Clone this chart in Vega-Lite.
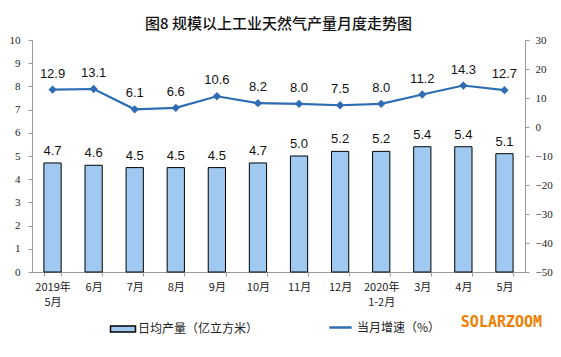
{
  "$schema": "https://vega.github.io/schema/vega-lite/v6.json",
  "width": 493,
  "height": 232,
  "autosize": {"type": "none"},
  "padding": {"left": 32, "top": 40, "right": 36, "bottom": 85},
  "background": "white",
  "title": {"text": "图8  规模以上工业天然气产量月度走势图", "font": "Noto Sans CJK SC", "fontSize": 15, "fontWeight": 500, "color": "#111", "anchor": "middle", "offset": 2},
  "config": {"view": {"stroke": null}},
  "datasets": {
    "main": [
      {"m": "2019年|5月", "v": 4.7, "g": 12.9},
      {"m": "6月", "v": 4.6, "g": 13.1},
      {"m": "7月", "v": 4.5, "g": 6.1},
      {"m": "8月", "v": 4.5, "g": 6.6},
      {"m": "9月", "v": 4.5, "g": 10.6},
      {"m": "10月", "v": 4.7, "g": 8.2},
      {"m": "11月", "v": 5.0, "g": 8.0},
      {"m": "12月", "v": 5.2, "g": 7.5},
      {"m": "2020年|1-2月", "v": 5.2, "g": 8.0},
      {"m": "3月", "v": 5.4, "g": 11.2},
      {"m": "4月", "v": 5.4, "g": 14.3},
      {"m": "5月", "v": 5.1, "g": 12.7}
    ],
    "mark": [{"m": "5月", "v": -2.15, "w": "SOLARZOOM"}]
  },
  "data": {"name": "main"},
  "encoding": {
    "x": {"field": "m", "type": "nominal", "sort": null,
      "scale": {"paddingInner": 0.58, "paddingOuter": 0.29},
      "axis": {"title": null, "labelAngle": 0, "labelExpr": "split(datum.label, '|')", "labelFont": "Noto Sans CJK SC", "labelFontSize": 11, "labelColor": "#222", "labelPadding": 5, "labelLineHeight": 15, "tickBand": "extent", "tickSize": 4, "tickColor": "#999", "domainColor": "#999"}
    }
  },
  "layer": [
    {
      "encoding": {
        "y": {"field": "v", "type": "quantitative", "scale": {"domain": [0, 10], "nice": false},
          "axis": {"title": null, "values": [0,1,2,3,4,5,6,7,8,9,10], "grid": false, "labelFont": "Liberation Serif", "labelFontSize": 11, "labelColor": "#222", "tickColor": "#999", "domainColor": "#999", "tickSize": 4, "labelPadding": 8}
        }
      },
      "layer": [
        {"mark": {"type": "bar", "stroke": "#000", "strokeWidth": 1},
         "encoding": {"fill": {"datum": "日均产量（亿立方米）", "type": "nominal", "scale": {"range": ["#9fc9f1"]},
            "legend": {"title": null, "orient": "none", "legendX": 80, "legendY": 278, "symbolType": "M-1.25,-0.3H1.25V0.3H-1.25Z", "symbolSize": 400, "symbolStrokeColor": "#000", "symbolStrokeWidth": 1.5, "labelFont": "Noto Sans CJK SC", "labelFontSize": 12, "labelColor": "#222", "labelOffset": 4}}}},
        {"mark": {"type": "text", "dy": -12, "font": "Liberation Sans", "fontSize": 13, "color": "#111"},
         "encoding": {"text": {"field": "v", "type": "quantitative", "format": ".1f"}}},
        {"data": {"name": "mark"},
         "mark": {"type": "text", "font": "DejaVu Sans Mono", "fontWeight": "bold", "fontSize": 15, "color": "#f07d00", "clip": false, "dx": -3},
         "encoding": {"text": {"field": "w", "type": "nominal"}}}
      ]
    },
    {
      "encoding": {
        "y": {"field": "g", "type": "quantitative", "scale": {"domain": [-50, 30], "nice": false},
          "axis": {"title": null, "orient": "right", "values": [-50,-40,-30,-20,-10,0,10,20,30], "grid": false, "labelFont": "Liberation Serif", "labelFontSize": 11, "labelColor": "#222", "tickColor": "#999", "domainColor": "#999", "tickSize": 4, "labelPadding": 6}
        }
      },
      "layer": [
        {"mark": {"type": "line", "strokeWidth": 2.2, "point": {"shape": "diamond", "size": 30, "filled": true, "color": "#2e6db4"}},
         "encoding": {"stroke": {"datum": "当月增速（%）", "type": "nominal", "scale": {"range": ["#2e6db4"]},
            "legend": {"title": null, "orient": "none", "legendX": 296, "legendY": 275, "symbolType": "stroke", "symbolSize": 500, "symbolStrokeWidth": 2.5, "labelFont": "Noto Sans CJK SC", "labelFontSize": 12, "labelColor": "#222", "labelOffset": 4}}}},
        {"mark": {"type": "text", "dy": -16, "font": "Liberation Sans", "fontSize": 13, "color": "#111"},
         "encoding": {"text": {"field": "g", "type": "quantitative", "format": ".1f"}}}
      ]
    }
  ],
  "resolve": {"scale": {"y": "independent", "fill": "independent", "stroke": "independent"}}
}
